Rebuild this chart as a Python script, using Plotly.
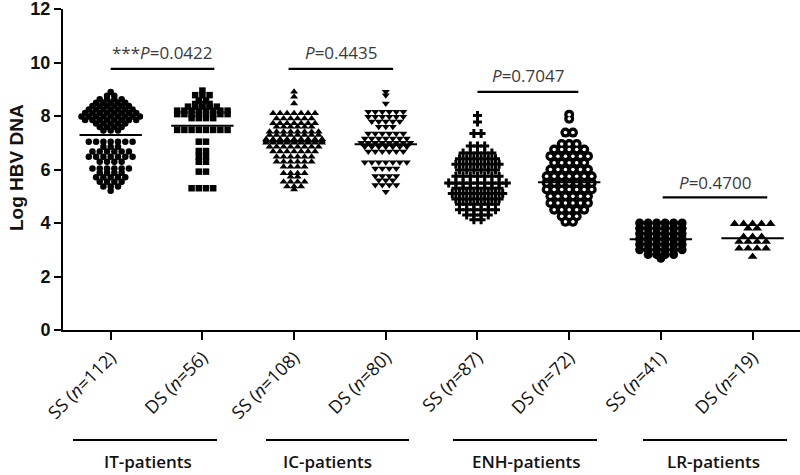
import plotly.graph_objects as go

# ---------------- data ----------------
categories = ["SS (<i>n</i>=112)", "DS (<i>n</i>=56)", "SS (<i>n</i>=108)", "DS (<i>n</i>=80)",
              "SS (<i>n</i>=87)", "DS (<i>n</i>=72)", "SS (<i>n</i>=41)", "DS (<i>n</i>=19)"]
groups = ["IT-patients", "IC-patients", "ENH-patients", "LR-patients"]

it_ss = [8.9, 8.76, 8.76, 8.63, 8.63, 8.63, 8.63, 8.5, 8.5, 8.5, 8.5, 8.5,
         8.37, 8.37, 8.37, 8.37, 8.37, 8.37, 8.24, 8.24, 8.24, 8.24, 8.24, 8.24, 8.24,
         8.11, 8.11, 8.11, 8.11, 8.11, 8.11, 8.11, 8.11,
         7.98, 7.98, 7.98, 7.98, 7.98, 7.98, 7.98, 7.98, 7.98,
         7.85, 7.85, 7.85, 7.85, 7.85, 7.85, 7.85, 7.85,
         7.72, 7.72, 7.72, 7.72, 7.72, 7.59, 7.59, 7.59, 7.59, 7.46, 7.46, 7.46,
         7.04, 7.04, 7.04, 7.04, 7.04, 7.04, 7.04, 6.85, 6.85, 6.85,
         6.67, 6.67, 6.67, 6.67, 6.67, 6.67, 6.48, 6.48, 6.48, 6.48, 6.48, 6.48, 6.48,
         6.29, 6.29, 6.29, 6.29, 6.04, 6.04, 6.04, 6.04, 6.04, 6.04,
         5.88, 5.88, 5.88, 5.88, 5.71, 5.71, 5.71, 5.71, 5.71,
         5.54, 5.54, 5.54, 5.54, 5.36, 5.36, 5.36, 5.21]
it_ds = [8.95, 8.78, 8.78, 8.78, 8.58, 8.58, 8.45, 8.45, 8.45,
         8.35, 8.35, 8.35, 8.35, 8.35, 8.2, 8.2, 8.2, 8.2, 8.2, 8.2, 8.2, 8.2,
         8.07, 8.07, 8.07, 8.07, 8.07, 8.07, 8.07, 8.07, 7.92, 7.92, 7.92, 7.92,
         7.48, 7.48, 7.48, 7.48, 7.48, 7.48, 7.48, 7.48,
         7.04, 7.04, 6.69, 6.69, 6.48, 6.48, 6.29, 6.29, 5.92, 5.92, 5.3, 5.3, 5.3, 5.3]
ic_ss = [8.91, 8.72, 8.47, 8.1, 8.1, 8.1, 8.1, 8.1, 8.1, 8.1,
         7.91, 7.91, 7.91, 7.91, 7.91, 7.91, 7.73, 7.73, 7.73, 7.73, 7.73, 7.73, 7.73,
         7.6, 7.6, 7.6, 7.6, 7.6, 7.6, 7.41, 7.41, 7.41, 7.41, 7.41, 7.41, 7.41, 7.41,
         7.29, 7.29, 7.29, 7.29, 7.29, 7.29, 7.29, 7.29,
         7.13, 7.13, 7.13, 7.13, 7.13, 7.13, 7.13, 7.13, 7.13,
         7.0, 7.0, 7.0, 7.0, 7.0, 7.0, 7.0, 7.0, 7.0,
         6.85, 6.85, 6.85, 6.85, 6.85, 6.85, 6.85, 6.85,
         6.67, 6.67, 6.67, 6.67, 6.67, 6.67, 6.67, 6.48, 6.48, 6.48, 6.48, 6.48, 6.48,
         6.29, 6.29, 6.29, 6.29, 6.29, 6.29, 6.1, 6.1, 6.1, 6.1, 5.86, 5.86, 5.86, 5.86,
         5.73, 5.73, 5.54, 5.54, 5.54, 5.54, 5.36, 5.36, 5.36, 5.25]
ic_ds = [8.91, 8.78, 8.47, 8.16, 8.16, 8.16, 8.16, 8.16, 8.16,
         7.97, 7.97, 7.97, 7.97, 7.97, 7.97, 7.79, 7.79, 7.79, 7.79, 7.79, 7.6, 7.6, 7.6,
         7.35, 7.35, 7.35, 7.35, 7.35, 7.35, 7.16, 7.16, 7.16, 7.16, 7.16, 7.16, 7.16,
         7.0, 7.0, 7.0, 7.0, 7.0, 7.0, 7.0, 7.0, 6.85, 6.85, 6.85, 6.85, 6.85, 6.85, 6.85,
         6.67, 6.67, 6.67, 6.67, 6.67, 6.67, 6.27, 6.27, 6.27, 6.27, 6.27, 6.27, 6.27,
         6.04, 6.04, 6.04, 6.04, 5.76, 5.76, 5.76, 5.76, 5.6, 5.6, 5.6,
         5.42, 5.42, 5.42, 5.42, 5.17]
enh_ss = [8.02, 7.78, 7.35, 7.35, 6.88, 6.88, 6.88, 6.62, 6.62, 6.62, 6.62, 6.62,
          6.4, 6.4, 6.4, 6.4, 6.4, 6.4, 6.2, 6.2, 6.2, 6.2, 6.2, 6.2, 6.2,
          5.98, 5.98, 5.98, 5.98, 5.98, 5.98, 5.75, 5.75, 5.75, 5.75, 5.75, 5.75, 5.75,
          5.5, 5.5, 5.5, 5.5, 5.5, 5.5, 5.5, 5.5, 5.5, 5.3, 5.3, 5.3, 5.3, 5.3, 5.3, 5.3,
          5.1, 5.1, 5.1, 5.1, 5.1, 5.1, 5.1, 5.1, 4.9, 4.9, 4.9, 4.9, 4.9, 4.9, 4.9,
          4.7, 4.7, 4.7, 4.7, 4.7, 4.7, 4.5, 4.5, 4.5, 4.5, 4.5, 4.5,
          4.3, 4.3, 4.3, 4.3, 4.12, 4.12]
enh_ds = [8.05, 7.9, 7.38, 7.38, 6.95, 6.95, 6.95, 6.75, 6.75, 6.75, 6.75, 6.75,
          6.5, 6.5, 6.5, 6.5, 6.5, 6.5, 6.25, 6.25, 6.25, 6.25, 6.25,
          6.0, 6.0, 6.0, 6.0, 6.0, 6.0, 5.75, 5.75, 5.75, 5.75, 5.75, 5.75, 5.75,
          5.5, 5.5, 5.5, 5.5, 5.5, 5.5, 5.5, 5.25, 5.25, 5.25, 5.25, 5.25, 5.25, 5.25,
          5.0, 5.0, 5.0, 5.0, 5.0, 5.0, 4.75, 4.75, 4.75, 4.75, 4.75, 4.75,
          4.5, 4.5, 4.5, 4.5, 4.5, 4.25, 4.25, 4.25, 4.05, 4.05]
lr_ss = [4.0, 4.0, 4.0, 4.0, 4.0, 4.0, 3.8, 3.8, 3.8, 3.8, 3.8, 3.8,
         3.6, 3.6, 3.6, 3.6, 3.6, 3.6, 3.4, 3.4, 3.4, 3.4, 3.4, 3.4,
         3.2, 3.2, 3.2, 3.2, 3.2, 3.2, 3.0, 3.0, 3.0, 3.0, 3.0, 3.0,
         2.82, 2.82, 2.82, 2.82, 2.68]
lr_ds = [3.97, 3.97, 3.97, 3.97, 3.97, 3.8, 3.8, 3.49, 3.49, 3.49,
         3.3, 3.3, 3.3, 3.3, 3.05, 3.05, 3.05, 3.05, 2.74]

series = [it_ss, it_ds, ic_ss, ic_ds, enh_ss, enh_ds, lr_ss, lr_ds]
means = [7.29, 7.64, 7.04, 6.94, 5.48, 5.52, 3.39, 3.43]

# comparison bars: start / end position, bar level, label, label level
p_x0 = [0.0, 1.94, 4.0, 6.02]
p_x1 = [1.13, 3.08, 5.1, 7.16]
p_y = [9.76, 9.76, 8.9, 4.96]
p_text = ["***<i>P</i>=0.0422", "<i>P</i>=0.4435", "<i>P</i>=0.7047", "<i>P</i>=0.4700"]
p_text_y = [10.36, 10.36, 9.5, 5.53]

# ---------------- styling ----------------
symbols = ["circle", "square", "triangle-up", "triangle-down", "cross", "circle", "circle", "triangle-up"]
sizes = [6.5, 6.5, 7, 7, 7.5, 10, 9, 8.5]
spacing_px = [7.3, 7.2, 7, 7, 7.2, 7.5, 8.5, 9]
PX_PER_CAT = 91.7

fig = go.Figure()
for i, vals in enumerate(series):
    # row-based dot layout (like a GraphPad scatter dot plot)
    rows = {}
    for v in vals:
        rows.setdefault(v, 0)
        rows[v] += 1
    xs, ys = [], []
    for v, n in rows.items():
        sp = spacing_px[i] / PX_PER_CAT
        for k in range(n):
            xs.append(i + (k - (n - 1) / 2) * sp)
            ys.append(v)
    fig.add_trace(go.Scatter(x=xs, y=ys, mode="markers",
                             marker=dict(symbol=symbols[i], size=sizes[i], color="black", line=dict(width=0)),
                             showlegend=False, hoverinfo="y", cliponaxis=False))
    if i == 5:
        # ring markers: white centre on top of the black discs
        fig.add_trace(go.Scatter(x=xs, y=ys, mode="markers",
                                 marker=dict(symbol="circle", size=3.5, color="white", line=dict(width=0)),
                                 showlegend=False, hoverinfo="skip", cliponaxis=False))
    fig.add_trace(go.Scatter(x=[i - 0.34, i + 0.34], y=[means[i], means[i]], mode="lines",
                             line=dict(color="black", width=2), showlegend=False, hoverinfo="skip"))

shapes = []
annotations = []
for x0, x1, y, t, ty in zip(p_x0, p_x1, p_y, p_text, p_text_y):
    shapes.append(dict(type="line", xref="x", yref="y", x0=x0, x1=x1, y0=y, y1=y,
                       line=dict(color="black", width=2.2)))
    annotations.append(dict(x=(x0 + x1) / 2, y=ty, xref="x", yref="y", text=t, showarrow=False,
                            font=dict(family="Open Sans", size=17, color="#3a3a3a"),
                            xanchor="center", yanchor="middle"))

# Page pixel layout
W, H = 800, 475
L, R, T, B = 63, 0, 9, 145
pw, ph = W - L - R, H - T - B


def px_x(p):  # page pixel -> paper x
    return (p - L) / pw


def px_y(p):  # page pixel -> paper y
    return (H - B - p) / ph


group_line_px = [(73, 217), (266, 409), (453, 597), (643, 787)]
group_text_px = [148, 327, 526, 713]
for (a, b), tx, g in zip(group_line_px, group_text_px, groups):
    shapes.append(dict(type="line", xref="paper", yref="paper", x0=px_x(a), x1=px_x(b),
                       y0=px_y(440), y1=px_y(440), line=dict(color="black", width=2)))
    annotations.append(dict(x=px_x(tx), y=px_y(461), xref="paper", yref="paper", text=g,
                            showarrow=False, xanchor="center", yanchor="middle",
                            font=dict(family="Open Sans", size=17, color="#111", weight=600)))

annotations.append(dict(x=px_x(16), y=px_y(168), xref="paper", yref="paper", text="Log HBV DNA",
                        textangle=-90, showarrow=False, xanchor="center", yanchor="middle",
                        font=dict(family="Liberation Sans", size=19, color="#111", weight="bold")))

fig.update_layout(
    width=W, height=H, margin=dict(l=L, r=R, t=T, b=B, autoexpand=False),
    plot_bgcolor="white", paper_bgcolor="white",
    shapes=shapes, annotations=annotations,
    xaxis=dict(range=[-0.52, 7.517], tickvals=list(range(8)), ticktext=categories,
               tickangle=-45, ticks="outside", ticklen=8, tickwidth=2, tickcolor="black",
               showline=True, linewidth=2, linecolor="black", showgrid=False, zeroline=False,
               automargin=False, ticklabeloverflow="allow",
               tickfont=dict(family="Open Sans", size=18, color="#111")),
    yaxis=dict(range=[0, 12], tickvals=[0, 2, 4, 6, 8, 10, 12], ticks="outside", ticklen=7,
               tickwidth=2, tickcolor="black", showline=True, linewidth=2, linecolor="black",
               showgrid=False, zeroline=False, automargin=False, ticklabeloverflow="allow",
               tickfont=dict(family="Liberation Sans", size=18, color="#111", weight="bold")),
)

# remove the default 8px page margin so the figure sits at the window's top-left corner
fig.write_html("out.html", config={"displayModeBar": False},
               post_script="document.body.style.margin='0px';")
